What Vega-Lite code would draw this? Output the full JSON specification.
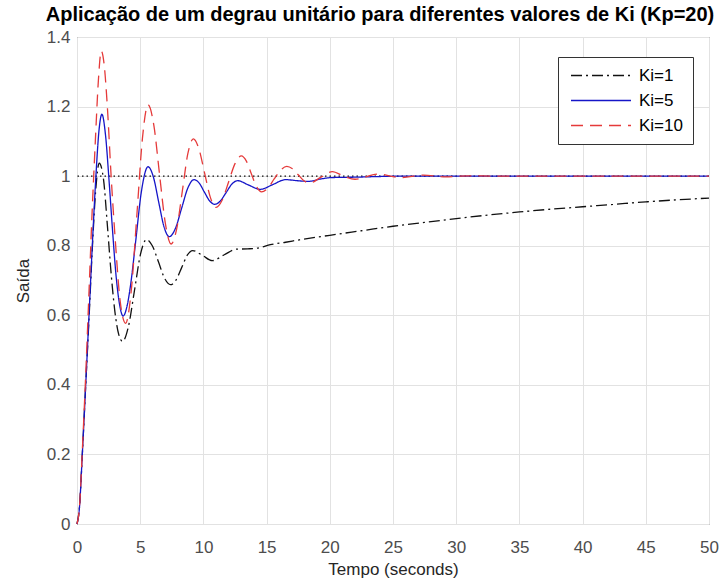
{
  "$schema": "https://vega.github.io/schema/vega-lite/v6.json",
  "width": 632,
  "height": 487,
  "autosize": {"type": "none"},
  "padding": {"left": 77, "top": 37, "right": 14, "bottom": 61},
  "background": "white",
  "title": {
    "text": "Aplicação de um degrau unitário para diferentes valores de Ki (Kp=20)",
    "font": "Liberation Sans",
    "fontSize": 20,
    "fontWeight": "bold",
    "color": "#000000",
    "anchor": "middle",
    "offset": 3,
    "dx": -13
  },
  "config": {
    "view": {"stroke": "#555555", "strokeWidth": 1},
    "axis": {
      "labelFont": "Liberation Sans",
      "titleFont": "Liberation Sans",
      "labelFontSize": 17,
      "titleFontSize": 17,
      "titleFontWeight": "normal",
      "labelColor": "#4d4d4d",
      "titleColor": "#262626",
      "gridColor": "#e2e2e2",
      "gridWidth": 1,
      "domain": false,
      "ticks": false
    },
    "legend": {
      "orient": "none",
      "legendX": 481,
      "legendY": 20,
      "padding": 10,
      "strokeColor": "#333333",
      "fillColor": "white",
      "labelFont": "Liberation Sans",
      "labelFontSize": 17,
      "labelColor": "#000000",
      "rowPadding": 7,
      "symbolType": "M-4,0H4",
      "symbolSize": 225,
      "symbolOffset": 24.5,
      "labelOffset": 29.5,
      "symbolStrokeWidth": 1.3
    }
  },
  "datasets": {
    "ref": [{"v": 1}],
    "curves": [
      {"s": "Ki=1", "t": 0, "v": 0}, {"s": "Ki=1", "t": 0.2, "v": 0.05}, {"s": "Ki=1", "t": 0.42, "v": 0.2}, {"s": "Ki=1", "t": 0.69, "v": 0.4}, {"s": "Ki=1", "t": 0.95, "v": 0.59}, {"s": "Ki=1", "t": 1.21, "v": 0.79}, {"s": "Ki=1", "t": 1.48, "v": 0.96}, {"s": "Ki=1", "t": 1.76, "v": 1.037}, {"s": "Ki=1", "t": 2.1, "v": 0.99}, {"s": "Ki=1", "t": 2.4, "v": 0.86}, {"s": "Ki=1", "t": 2.7, "v": 0.72}, {"s": "Ki=1", "t": 3.0, "v": 0.61}, {"s": "Ki=1", "t": 3.3, "v": 0.545}, {"s": "Ki=1", "t": 3.6, "v": 0.525}, {"s": "Ki=1", "t": 4.07, "v": 0.568}, {"s": "Ki=1", "t": 4.55, "v": 0.672}, {"s": "Ki=1", "t": 5.02, "v": 0.775}, {"s": "Ki=1", "t": 5.5, "v": 0.818}, {"s": "Ki=1", "t": 5.97, "v": 0.799}, {"s": "Ki=1", "t": 6.45, "v": 0.753}, {"s": "Ki=1", "t": 6.92, "v": 0.707}, {"s": "Ki=1", "t": 7.4, "v": 0.688}, {"s": "Ki=1", "t": 7.84, "v": 0.702}, {"s": "Ki=1", "t": 8.28, "v": 0.737}, {"s": "Ki=1", "t": 8.71, "v": 0.772}, {"s": "Ki=1", "t": 9.15, "v": 0.786}, {"s": "Ki=1", "t": 9.93, "v": 0.772}, {"s": "Ki=1", "t": 10.7, "v": 0.757}, {"s": "Ki=1", "t": 11.65, "v": 0.774}, {"s": "Ki=1", "t": 12.6, "v": 0.79}, {"s": "Ki=1", "t": 13.5, "v": 0.791}, {"s": "Ki=1", "t": 14.4, "v": 0.794}, {"s": "Ki=1", "t": 15.3, "v": 0.803}, {"s": "Ki=1", "t": 16.5, "v": 0.81}, {"s": "Ki=1", "t": 17.6, "v": 0.817}, {"s": "Ki=1", "t": 20, "v": 0.83}, {"s": "Ki=1", "t": 22.5, "v": 0.843}, {"s": "Ki=1", "t": 25, "v": 0.856}, {"s": "Ki=1", "t": 27.5, "v": 0.867}, {"s": "Ki=1", "t": 30, "v": 0.878}, {"s": "Ki=1", "t": 32.5, "v": 0.888}, {"s": "Ki=1", "t": 35, "v": 0.897}, {"s": "Ki=1", "t": 37.5, "v": 0.905}, {"s": "Ki=1", "t": 40, "v": 0.912}, {"s": "Ki=1", "t": 42.5, "v": 0.919}, {"s": "Ki=1", "t": 45, "v": 0.926}, {"s": "Ki=1", "t": 47.5, "v": 0.932}, {"s": "Ki=1", "t": 50, "v": 0.937},
      {"s": "Ki=5", "t": 0, "v": 0}, {"s": "Ki=5", "t": 0.2, "v": 0.05}, {"s": "Ki=5", "t": 0.42, "v": 0.2}, {"s": "Ki=5", "t": 0.69, "v": 0.4}, {"s": "Ki=5", "t": 0.95, "v": 0.6}, {"s": "Ki=5", "t": 1.21, "v": 0.8}, {"s": "Ki=5", "t": 1.48, "v": 0.99}, {"s": "Ki=5", "t": 1.75, "v": 1.135}, {"s": "Ki=5", "t": 1.97, "v": 1.178}, {"s": "Ki=5", "t": 2.25, "v": 1.12}, {"s": "Ki=5", "t": 2.55, "v": 0.98}, {"s": "Ki=5", "t": 2.8, "v": 0.85}, {"s": "Ki=5", "t": 3.1, "v": 0.71}, {"s": "Ki=5", "t": 3.35, "v": 0.635}, {"s": "Ki=5", "t": 3.65, "v": 0.598}, {"s": "Ki=5", "t": 3.95, "v": 0.625}, {"s": "Ki=5", "t": 4.25, "v": 0.69}, {"s": "Ki=5", "t": 4.64, "v": 0.812}, {"s": "Ki=5", "t": 5.1, "v": 0.957}, {"s": "Ki=5", "t": 5.62, "v": 1.027}, {"s": "Ki=5", "t": 6.04, "v": 0.998}, {"s": "Ki=5", "t": 6.46, "v": 0.926}, {"s": "Ki=5", "t": 6.88, "v": 0.855}, {"s": "Ki=5", "t": 7.3, "v": 0.826}, {"s": "Ki=5", "t": 7.79, "v": 0.85}, {"s": "Ki=5", "t": 8.28, "v": 0.908}, {"s": "Ki=5", "t": 8.77, "v": 0.966}, {"s": "Ki=5", "t": 9.26, "v": 0.99}, {"s": "Ki=5", "t": 9.67, "v": 0.98}, {"s": "Ki=5", "t": 10.08, "v": 0.954}, {"s": "Ki=5", "t": 10.49, "v": 0.929}, {"s": "Ki=5", "t": 10.9, "v": 0.919}, {"s": "Ki=5", "t": 11.35, "v": 0.929}, {"s": "Ki=5", "t": 11.8, "v": 0.953}, {"s": "Ki=5", "t": 12.25, "v": 0.977}, {"s": "Ki=5", "t": 12.7, "v": 0.987}, {"s": "Ki=5", "t": 13.6, "v": 0.974}, {"s": "Ki=5", "t": 14.5, "v": 0.962}, {"s": "Ki=5", "t": 15.5, "v": 0.976}, {"s": "Ki=5", "t": 16.5, "v": 0.99}, {"s": "Ki=5", "t": 17.4, "v": 0.987}, {"s": "Ki=5", "t": 18.3, "v": 0.985}, {"s": "Ki=5", "t": 19.3, "v": 0.992}, {"s": "Ki=5", "t": 20.2, "v": 0.996}, {"s": "Ki=5", "t": 22, "v": 0.997}, {"s": "Ki=5", "t": 24, "v": 0.999}, {"s": "Ki=5", "t": 26, "v": 1}, {"s": "Ki=5", "t": 30, "v": 1}, {"s": "Ki=5", "t": 35, "v": 1}, {"s": "Ki=5", "t": 40, "v": 1}, {"s": "Ki=5", "t": 45, "v": 1}, {"s": "Ki=5", "t": 50, "v": 1},
      {"s": "Ki=10", "t": 0, "v": 0}, {"s": "Ki=10", "t": 0.2, "v": 0.05}, {"s": "Ki=10", "t": 0.42, "v": 0.21}, {"s": "Ki=10", "t": 0.69, "v": 0.43}, {"s": "Ki=10", "t": 0.92, "v": 0.64}, {"s": "Ki=10", "t": 1.2, "v": 0.9}, {"s": "Ki=10", "t": 1.45, "v": 1.1}, {"s": "Ki=10", "t": 1.7, "v": 1.28}, {"s": "Ki=10", "t": 1.92, "v": 1.36}, {"s": "Ki=10", "t": 2.15, "v": 1.32}, {"s": "Ki=10", "t": 2.4, "v": 1.2}, {"s": "Ki=10", "t": 2.7, "v": 1.0}, {"s": "Ki=10", "t": 3.06, "v": 0.8}, {"s": "Ki=10", "t": 3.4, "v": 0.645}, {"s": "Ki=10", "t": 3.85, "v": 0.577}, {"s": "Ki=10", "t": 4.29, "v": 0.67}, {"s": "Ki=10", "t": 4.74, "v": 0.89}, {"s": "Ki=10", "t": 5.18, "v": 1.11}, {"s": "Ki=10", "t": 5.62, "v": 1.205}, {"s": "Ki=10", "t": 6.08, "v": 1.146}, {"s": "Ki=10", "t": 6.53, "v": 1.005}, {"s": "Ki=10", "t": 6.99, "v": 0.864}, {"s": "Ki=10", "t": 7.45, "v": 0.805}, {"s": "Ki=10", "t": 7.89, "v": 0.849}, {"s": "Ki=10", "t": 8.33, "v": 0.956}, {"s": "Ki=10", "t": 8.76, "v": 1.063}, {"s": "Ki=10", "t": 9.2, "v": 1.107}, {"s": "Ki=10", "t": 9.65, "v": 1.078}, {"s": "Ki=10", "t": 10.1, "v": 1.008}, {"s": "Ki=10", "t": 10.55, "v": 0.939}, {"s": "Ki=10", "t": 11.0, "v": 0.91}, {"s": "Ki=10", "t": 11.5, "v": 0.932}, {"s": "Ki=10", "t": 12.0, "v": 0.984}, {"s": "Ki=10", "t": 12.5, "v": 1.036}, {"s": "Ki=10", "t": 13.0, "v": 1.058}, {"s": "Ki=10", "t": 13.4, "v": 1.043}, {"s": "Ki=10", "t": 13.8, "v": 1.006}, {"s": "Ki=10", "t": 14.2, "v": 0.97}, {"s": "Ki=10", "t": 14.6, "v": 0.955}, {"s": "Ki=10", "t": 15.1, "v": 0.966}, {"s": "Ki=10", "t": 15.6, "v": 0.992}, {"s": "Ki=10", "t": 16.1, "v": 1.017}, {"s": "Ki=10", "t": 16.6, "v": 1.028}, {"s": "Ki=10", "t": 17.05, "v": 1.021}, {"s": "Ki=10", "t": 17.5, "v": 1.004}, {"s": "Ki=10", "t": 17.95, "v": 0.987}, {"s": "Ki=10", "t": 18.4, "v": 0.98}, {"s": "Ki=10", "t": 19.3, "v": 0.997}, {"s": "Ki=10", "t": 20.2, "v": 1.013}, {"s": "Ki=10", "t": 21.1, "v": 1.0}, {"s": "Ki=10", "t": 22.0, "v": 0.991}, {"s": "Ki=10", "t": 23.8, "v": 1.006}, {"s": "Ki=10", "t": 25.6, "v": 0.996}, {"s": "Ki=10", "t": 27.4, "v": 1.003}, {"s": "Ki=10", "t": 29.2, "v": 0.998}, {"s": "Ki=10", "t": 31, "v": 1.001}, {"s": "Ki=10", "t": 33, "v": 1}, {"s": "Ki=10", "t": 40, "v": 1}, {"s": "Ki=10", "t": 50, "v": 1}
    ]
  },
  "layer": [
    {
      "data": {"name": "ref"},
      "mark": {"type": "rule", "color": "#111111", "strokeWidth": 1.2, "strokeDash": [1.5, 3]},
      "encoding": {
        "y": {"field": "v", "type": "quantitative", "scale": {"domain": [0, 1.4]}}
      }
    },
    {
      "data": {"name": "curves"},
      "mark": {"type": "line", "interpolate": "monotone", "strokeWidth": 1.3},
      "encoding": {
        "x": {
          "field": "t", "type": "quantitative",
          "scale": {"domain": [0, 50], "nice": false, "zero": false},
          "axis": {"title": "Tempo (seconds)", "values": [0, 5, 10, 15, 20, 25, 30, 35, 40, 45, 50], "format": "~g", "labelPadding": 15, "titlePadding": 6, "labelFlush": false}
        },
        "y": {
          "field": "v", "type": "quantitative",
          "scale": {"domain": [0, 1.4], "nice": false},
          "axis": {"title": "Saída", "values": [0, 0.2, 0.4, 0.6, 0.8, 1, 1.2, 1.4], "format": "~g", "labelPadding": 7, "titlePadding": 14, "labelFlush": false}
        },
        "color": {
          "field": "s", "type": "nominal",
          "scale": {"domain": ["Ki=1", "Ki=5", "Ki=10"], "range": ["#111111", "#1515c8", "#e53a3a"]},
          "legend": {"title": null}
        },
        "strokeDash": {
          "field": "s", "type": "nominal",
          "scale": {"domain": ["Ki=1", "Ki=5", "Ki=10"], "range": [[11, 4, 2, 4], [1, 0], [12, 7]]},
          "legend": {"title": null}
        }
      }
    }
  ]
}
